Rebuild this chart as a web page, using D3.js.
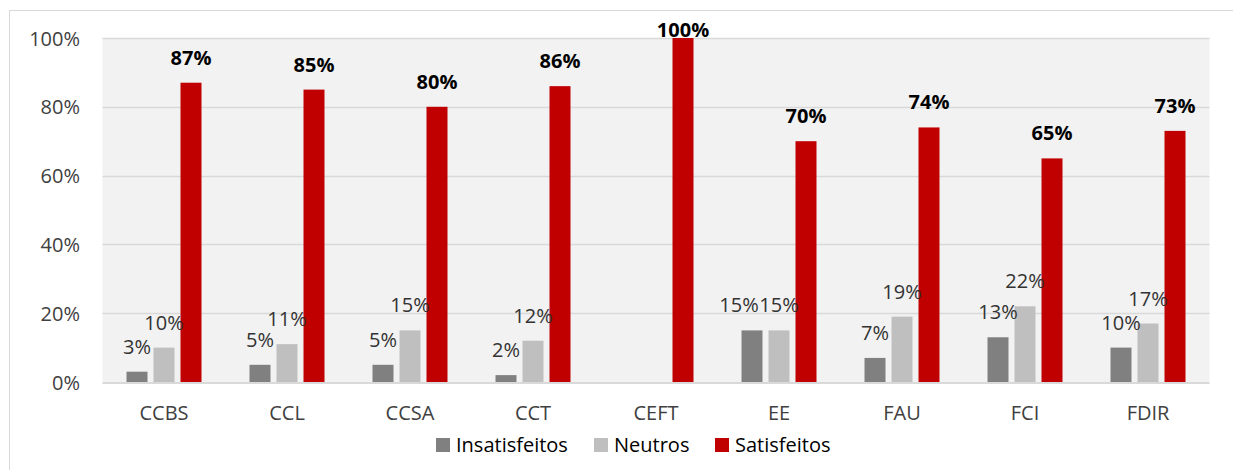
<!DOCTYPE html>
<html><head><meta charset="utf-8">
<script src="https://cdn.jsdelivr.net/npm/d3@7"></script>
<style>
html,body{margin:0;padding:0;background:#fff;}
svg{display:block;font-family:"Open Sans",sans-serif;}
</style></head>
<body><svg id="c" width="1233" height="470"></svg>
<script>
const categories = ["CCBS","CCL","CCSA","CCT","CEFT","EE","FAU","FCI","FDIR"];
const seriesNames = ["Insatisfeitos","Neutros","Satisfeitos"];
const insatisfeitos = [0.03,0.05,0.05,0.02,0,0.15,0.07,0.13,0.10];
const neutros = [0.10,0.11,0.15,0.12,0,0.15,0.19,0.22,0.17];
const satisfeitos = [0.87,0.85,0.80,0.86,1.00,0.70,0.74,0.65,0.73];
const yTicks = [0,0.2,0.4,0.6,0.8,1.0];
const colors = {"Insatisfeitos":"#808080","Neutros":"#bfbfbf","Satisfeitos":"#c00000"};
const values = {"Insatisfeitos":insatisfeitos,"Neutros":neutros,"Satisfeitos":satisfeitos};

const svg = d3.select("#c");
// chart area frame
svg.append("rect").attr("x",9.5).attr("y",10.5).attr("width",1240).attr("height",480)
  .attr("fill","#fff").attr("stroke","#d9d9d9");

const L=102.5, R=1209.5, T=38, B=382;
const x0 = d3.scaleBand().domain(categories).range([L,R]).paddingInner(0).paddingOuter(0);
const groupW = 81;
const x1 = d3.scaleBand().domain(seriesNames).range([(x0.bandwidth()-groupW)/2,(x0.bandwidth()+groupW)/2]).paddingInner(6/27).paddingOuter(3/27);
const y = d3.scaleLinear().domain([0,1]).range([B,T]);

svg.append("rect").attr("x",L).attr("y",T).attr("width",R-L).attr("height",B-T).attr("fill","#f2f2f2");

svg.append("g").selectAll("line").data(yTicks.filter(d=>d>0)).join("line")
  .attr("x1",L).attr("x2",R).attr("y1",d=>Math.round(y(d))+0.5).attr("y2",d=>Math.round(y(d))+0.5)
  .attr("stroke","#d9d9d9").attr("stroke-width",1.5);

// y axis labels
const yAxis = d3.axisLeft(y).tickValues(yTicks).tickFormat(d3.format(".0%")).tickSize(0).tickPadding(0);
const ya = svg.append("g").attr("transform","translate(80,0)").call(yAxis);
ya.select(".domain").remove();
ya.selectAll("text").attr("font-family","Open Sans").attr("font-size",20).attr("fill","#404040").attr("dy","0.35em");

// bars
const flat = [];
categories.forEach((c,i)=>seriesNames.forEach(s=>flat.push({c,s,v:values[s][i],i})));
svg.append("g").selectAll("rect").data(flat.filter(d=>d.v>0)).join("rect")
  .attr("x",d=>x0(d.c)+x1(d.s)).attr("width",x1.bandwidth())
  .attr("y",d=>y(d.v)).attr("height",d=>y(0)-y(d.v)).attr("fill",d=>colors[d.s]);

// baseline
svg.append("line").attr("x1",L).attr("x2",R).attr("y1",B+1).attr("y2",B+1).attr("stroke","#d9d9d9").attr("stroke-width",2);

// data labels
const fmt = d3.format(".0%");
svg.append("g").selectAll("text").data(flat.filter(d=>d.v>0)).join("text")
  .attr("x",d=>{
    let cx = x0(d.c)+x1(d.s)+x1.bandwidth()/2;
    if(d.s==="Insatisfeitos" && values["Neutros"][d.i]===d.v) cx -= 13;
    return cx;})
  .attr("y",d=>Math.max(y(d.v)-18, T-1))
  .attr("text-anchor","middle")
  .attr("font-size",20)
  .attr("font-weight",d=>d.s==="Satisfeitos"?"bold":"normal")
  .attr("fill",d=>d.s==="Satisfeitos"?"#000":"#333")
  .text(d=>fmt(d.v));

// x axis labels
const xAxis = d3.axisBottom(x0).tickSize(0).tickPadding(0);
const xa = svg.append("g").attr("transform","translate(0,420)").call(xAxis);
xa.select(".domain").remove();
xa.selectAll("text").attr("font-family","Open Sans").attr("font-size",20).attr("fill","#404040").attr("dy",0);

// legend
const legX = [436,594,715];
const lg = svg.append("g").selectAll("g").data(seriesNames).join("g")
  .attr("transform",(d,i)=>`translate(${legX[i]},438)`);
lg.append("rect").attr("width",14).attr("height",14).attr("fill",d=>colors[d]);
lg.append("text").attr("x",20).attr("y",14).attr("font-size",20).attr("fill","#000").text(d=>d);
</script></body></html>
